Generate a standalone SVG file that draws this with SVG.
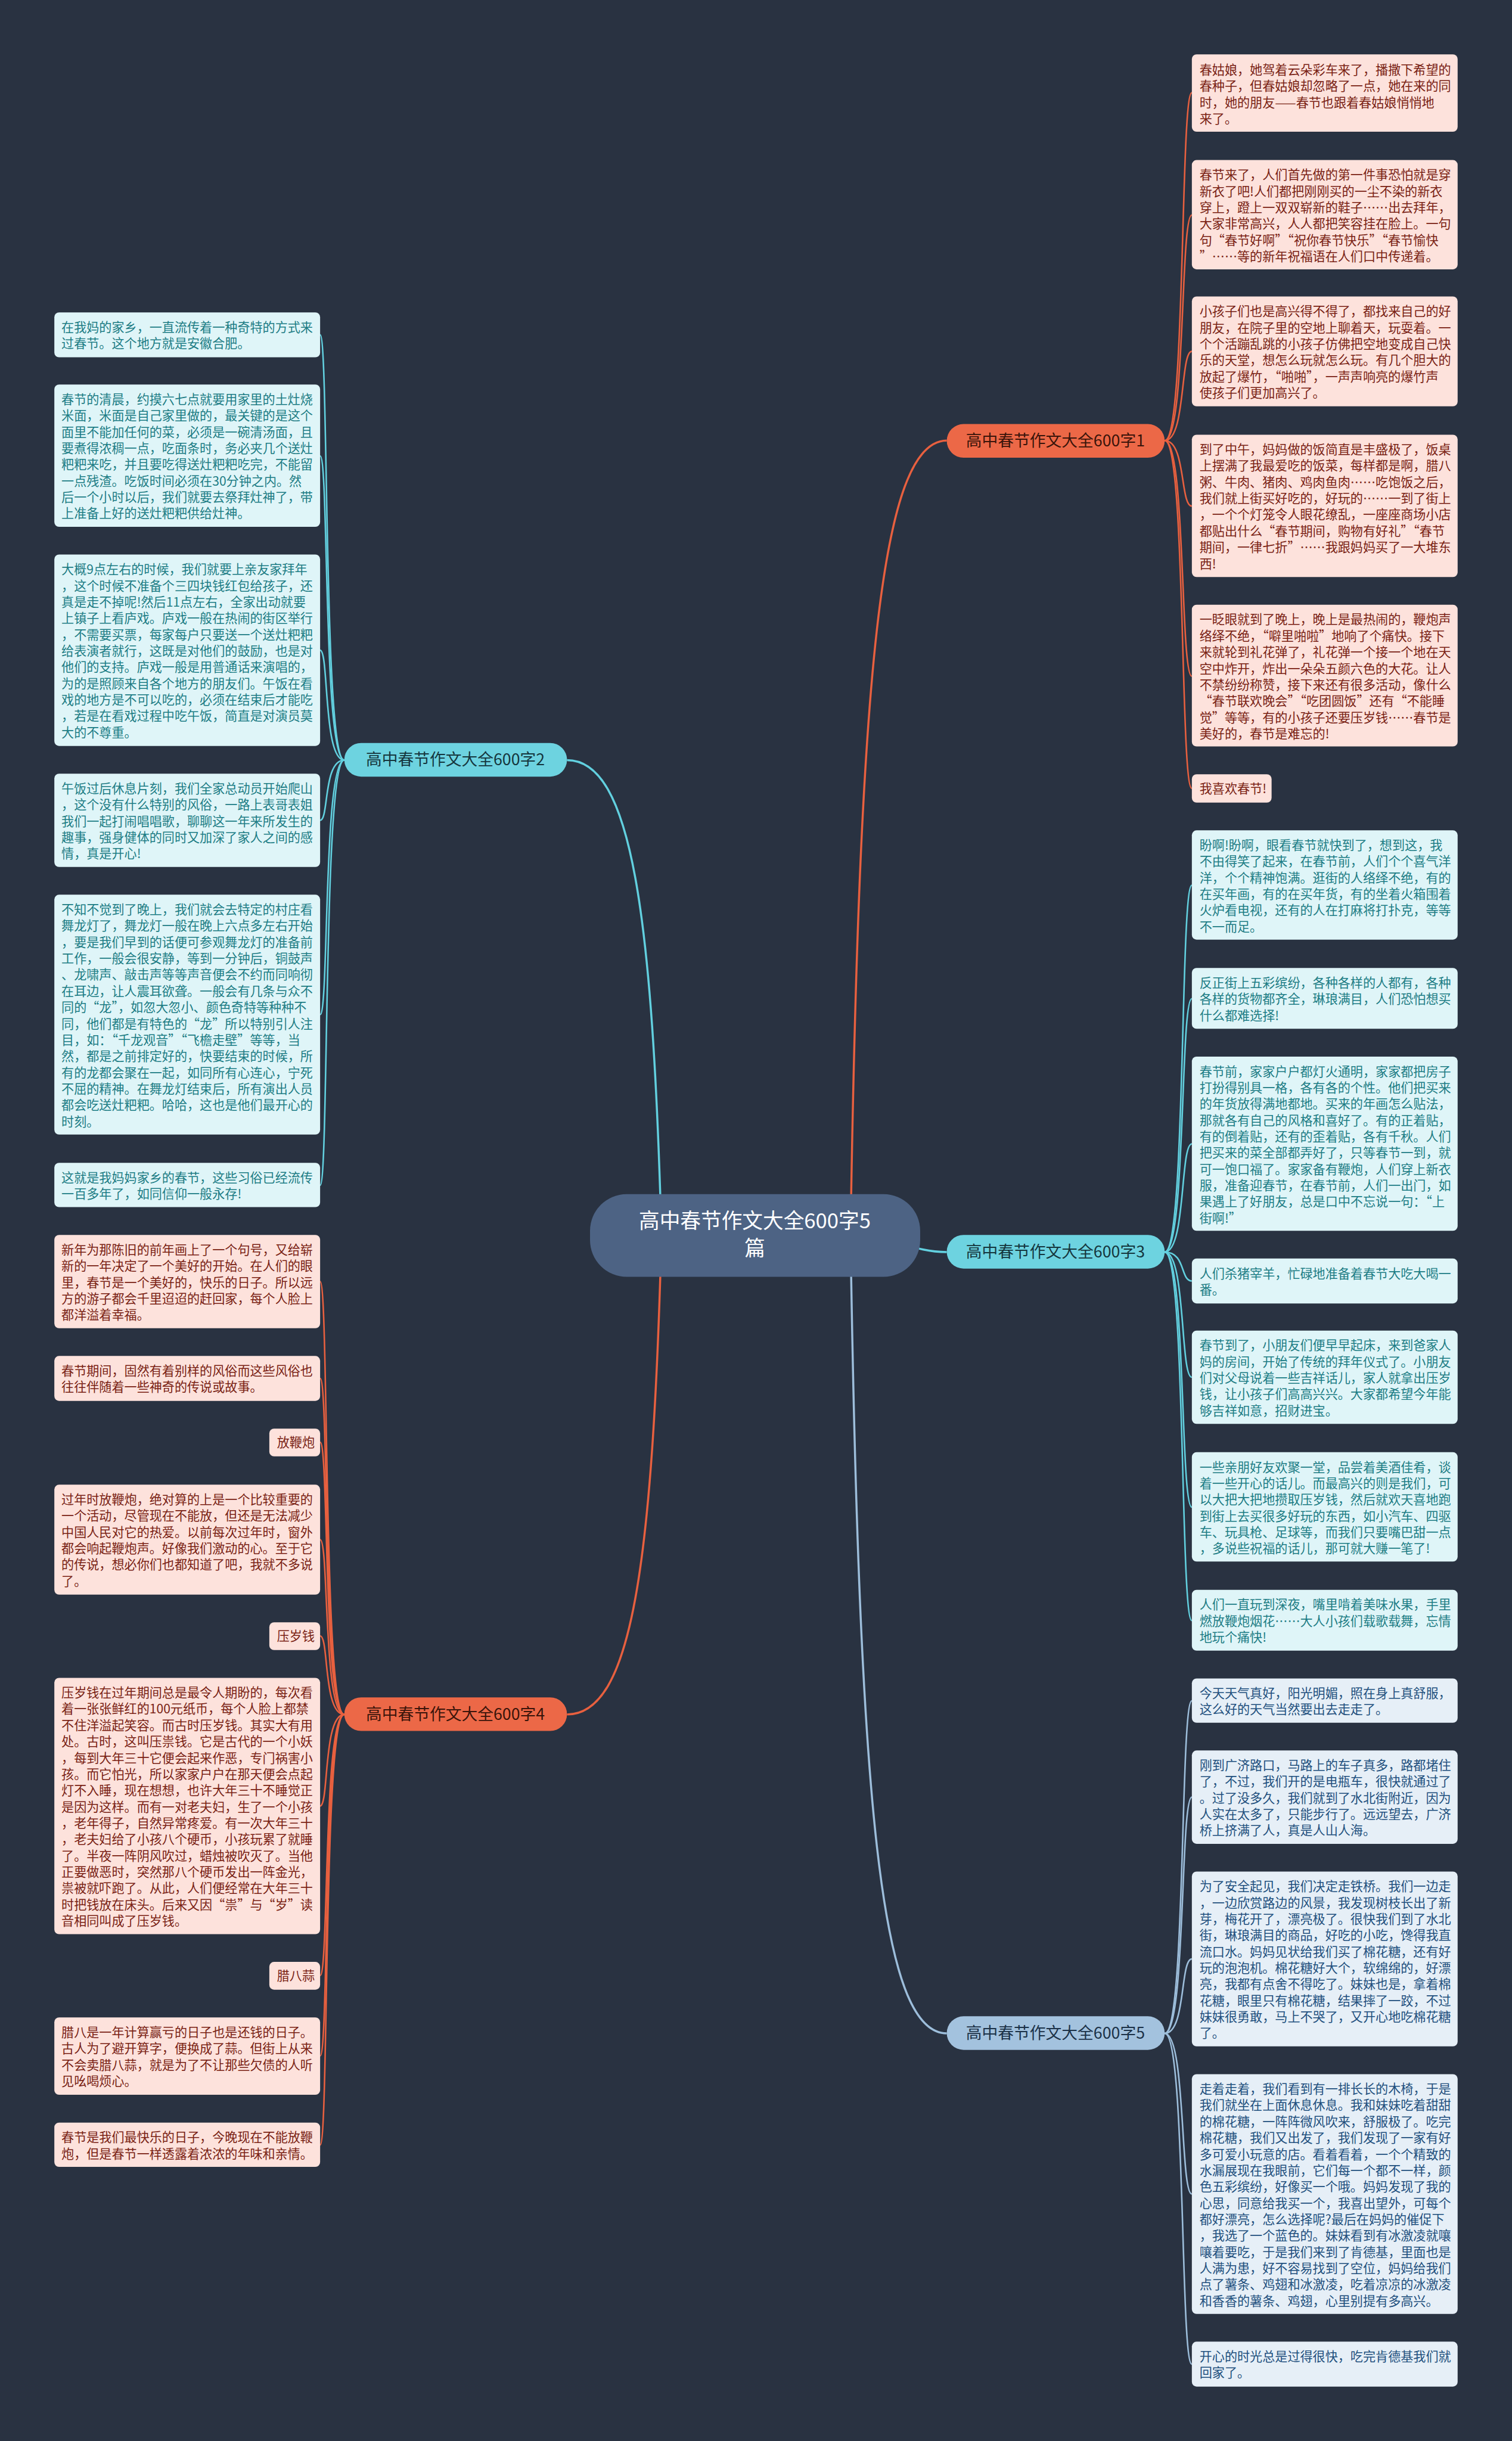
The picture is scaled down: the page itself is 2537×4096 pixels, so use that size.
<svg xmlns="http://www.w3.org/2000/svg" width="2537" height="4096" viewBox="0 0 2537 4096">
<style>
text{font-family:"Noto Sans CJK SC","Liberation Sans",sans-serif;}
.lt rect{fill:#dff5f8;}
.lr rect{fill:#fde2dc;}
.lb rect{fill:#e6eff7;}
.lt text{fill:#1d7d85;font-size:21.3px;}
.lr text{fill:#7a2214;font-size:21.3px;}
.lb text{fill:#22507e;font-size:21.3px;}
.cr{fill:none;stroke:#e8603f;stroke-width:2.6;}
.ct{fill:none;stroke:#62d0df;stroke-width:2.6;}
.cb{fill:none;stroke:#9dbedb;stroke-width:2.6;}
.main{stroke-width:3.5;}
.br text{font-size:27px;text-anchor:middle;}
</style>
<rect width="2537" height="4096" fill="#293241"/>
<g transform="scale(0.991)">
<g id="connectors">
<path class="cr main" d="M1440 2092 C1455 1150 1490 746 1603 746"/>
<path class="ct main" d="M1120 2092 C1105 1550 1070 1287 960 1287"/>
<path class="ct main" d="M1450 2092 C1520 2092 1540 2120 1603 2120"/>
<path class="cr main" d="M1120 2092 C1105 2650 1070 2903 960 2903"/>
<path class="cb main" d="M1440 2092 C1455 3050 1490 3443 1603 3443"/>
<path class="cr" d="M1972 746 C2008 746 1998 157 2018 157"/>
<path class="cr" d="M1972 746 C2008 746 1998 364 2018 364"/>
<path class="cr" d="M1972 746 C2008 746 1998 595 2018 595"/>
<path class="cr" d="M1972 746 C2008 746 1998 857 2018 857"/>
<path class="cr" d="M1972 746 C2008 746 1998 1145 2018 1145"/>
<path class="cr" d="M1972 746 C2008 746 1998 1335 2018 1335"/>
<path class="ct" d="M1972 2120 C2008 2120 1998 1499 2018 1499"/>
<path class="ct" d="M1972 2120 C2008 2120 1998 1691 2018 1691"/>
<path class="ct" d="M1972 2120 C2008 2120 1998 1937 2018 1937"/>
<path class="ct" d="M1972 2120 C2008 2120 1998 2169 2018 2169"/>
<path class="ct" d="M1972 2120 C2008 2120 1998 2332 2018 2332"/>
<path class="ct" d="M1972 2120 C2008 2120 1998 2552 2018 2552"/>
<path class="ct" d="M1972 2120 C2008 2120 1998 2744 2018 2744"/>
<path class="cb" d="M1972 3443 C2008 3443 1998 2880 2018 2880"/>
<path class="cb" d="M1972 3443 C2008 3443 1998 3043 2018 3043"/>
<path class="cb" d="M1972 3443 C2008 3443 1998 3317 2018 3317"/>
<path class="cb" d="M1972 3443 C2008 3443 1998 3715 2018 3715"/>
<path class="cb" d="M1972 3443 C2008 3443 1998 4003 2018 4003"/>
<path class="ct" d="M583 1287 C547 1287 557 567 542 567"/>
<path class="ct" d="M583 1287 C547 1287 557 772 542 772"/>
<path class="ct" d="M583 1287 C547 1287 557 1101 542 1101"/>
<path class="ct" d="M583 1287 C547 1287 557 1389 542 1389"/>
<path class="ct" d="M583 1287 C547 1287 557 1718 542 1718"/>
<path class="ct" d="M583 1287 C547 1287 557 2007 542 2007"/>
<path class="cr" d="M583 2903 C547 2903 557 2170 542 2170"/>
<path class="cr" d="M583 2903 C547 2903 557 2334 542 2334"/>
<path class="cr" d="M583 2903 C547 2903 557 2442 542 2442"/>
<path class="cr" d="M583 2903 C547 2903 557 2607 542 2607"/>
<path class="cr" d="M583 2903 C547 2903 557 2770 542 2770"/>
<path class="cr" d="M583 2903 C547 2903 557 3058 542 3058"/>
<path class="cr" d="M583 2903 C547 2903 557 3345 542 3345"/>
<path class="cr" d="M583 2903 C547 2903 557 3481 542 3481"/>
<path class="cr" d="M583 2903 C547 2903 557 3632 542 3632"/>
</g>

<g id="root">
<rect x="999" y="2022" width="559" height="140" rx="62" fill="#4d6384"/>
<text x="1278" y="2080" font-size="35" fill="#ffffff" text-anchor="middle">高中春节作文大全600字5</text>
<text x="1278" y="2126" font-size="35" fill="#ffffff" text-anchor="middle">篇</text>
</g>

<g id="b1" class="br"><rect x="1603" y="718" width="369" height="57" rx="28.5" fill="#ec6847"/><text x="1787" y="756" fill="#3a140a">高中春节作文大全600字1</text></g>
<g id="b2" class="br"><rect x="583" y="1258" width="377" height="57" rx="28.5" fill="#6dd3e0"/><text x="771" y="1296" fill="#15363d">高中春节作文大全600字2</text></g>
<g id="b3" class="br"><rect x="1603" y="2091" width="369" height="57" rx="28.5" fill="#6dd3e0"/><text x="1787" y="2129" fill="#15363d">高中春节作文大全600字3</text></g>
<g id="b4" class="br"><rect x="583" y="2874" width="377" height="57" rx="28.5" fill="#ec6847"/><text x="771" y="2912" fill="#3a140a">高中春节作文大全600字4</text></g>
<g id="b5" class="br"><rect x="1603" y="3414" width="369" height="57" rx="28.5" fill="#a3c2de"/><text x="1787" y="3452" fill="#1b3147">高中春节作文大全600字5</text></g>

<!-- branch 2 leaves -->
<g id="l2a" class="lt"><rect x="92" y="529" width="450" height="76" rx="8"/><text x="104" y="562"><tspan x="104">在我妈的家乡，一直流传着一种奇特的方式来</tspan><tspan x="104" dy="27.6">过春节。这个地方就是安徽合肥。</tspan></text></g>
<g id="l2b" class="lt"><rect x="92" y="651" width="450" height="241" rx="8"/><text x="104" y="684"><tspan x="104">春节的清晨，约摸六七点就要用家里的土灶烧</tspan><tspan x="104" dy="27.6">米面，米面是自己家里做的，最关键的是这个</tspan><tspan x="104" dy="27.6">面里不能加任何的菜，必须是一碗清汤面，且</tspan><tspan x="104" dy="27.6">要煮得浓稠一点，吃面条时，务必夹几个送灶</tspan><tspan x="104" dy="27.6">粑粑来吃，并且要吃得送灶粑粑吃完，不能留</tspan><tspan x="104" dy="27.6">一点残渣。吃饭时间必须在30分钟之内。然</tspan><tspan x="104" dy="27.6">后一个小时以后，我们就要去祭拜灶神了，带</tspan><tspan x="104" dy="27.6">上准备上好的送灶粑粑供给灶神。</tspan></text></g>
<g id="l2c" class="lt"><rect x="92" y="939" width="450" height="324" rx="8"/><text x="104" y="972"><tspan x="104">大概9点左右的时候，我们就要上亲友家拜年</tspan><tspan x="104" dy="27.6">，这个时候不准备个三四块钱红包给孩子，还</tspan><tspan x="104" dy="27.6">真是走不掉呢!然后11点左右，全家出动就要</tspan><tspan x="104" dy="27.6">上镇子上看庐戏。庐戏一般在热闹的街区举行</tspan><tspan x="104" dy="27.6">，不需要买票，每家每户只要送一个送灶粑粑</tspan><tspan x="104" dy="27.6">给表演者就行，这既是对他们的鼓励，也是对</tspan><tspan x="104" dy="27.6">他们的支持。庐戏一般是用普通话来演唱的，</tspan><tspan x="104" dy="27.6">为的是照顾来自各个地方的朋友们。午饭在看</tspan><tspan x="104" dy="27.6">戏的地方是不可以吃的，必须在结束后才能吃</tspan><tspan x="104" dy="27.6">，若是在看戏过程中吃午饭，简直是对演员莫</tspan><tspan x="104" dy="27.6">大的不尊重。</tspan></text></g>
<g id="l2d" class="lt"><rect x="92" y="1310" width="450" height="158" rx="8"/><text x="104" y="1343"><tspan x="104">午饭过后休息片刻，我们全家总动员开始爬山</tspan><tspan x="104" dy="27.6">，这个没有什么特别的风俗，一路上表哥表姐</tspan><tspan x="104" dy="27.6">我们一起打闹唱唱歌，聊聊这一年来所发生的</tspan><tspan x="104" dy="27.6">趣事，强身健体的同时又加深了家人之间的感</tspan><tspan x="104" dy="27.6">情，真是开心!</tspan></text></g>
<g id="l2e" class="lt"><rect x="92" y="1515" width="450" height="406" rx="8"/><text x="104" y="1548"><tspan x="104">不知不觉到了晚上，我们就会去特定的村庄看</tspan><tspan x="104" dy="27.6">舞龙灯了，舞龙灯一般在晚上六点多左右开始</tspan><tspan x="104" dy="27.6">，要是我们早到的话便可参观舞龙灯的准备前</tspan><tspan x="104" dy="27.6">工作，一般会很安静，等到一分钟后，铜鼓声</tspan><tspan x="104" dy="27.6">、龙啸声、敲击声等等声音便会不约而同响彻</tspan><tspan x="104" dy="27.6">在耳边，让人震耳欲聋。一般会有几条与众不</tspan><tspan x="104" dy="27.6">同的“龙”，如忽大忽小、颜色奇特等种种不</tspan><tspan x="104" dy="27.6">同，他们都是有特色的“龙”所以特别引人注</tspan><tspan x="104" dy="27.6">目，如：“千龙观音”“飞檐走壁”等等，当</tspan><tspan x="104" dy="27.6">然，都是之前排定好的，快要结束的时候，所</tspan><tspan x="104" dy="27.6">有的龙都会聚在一起，如同所有心连心，宁死</tspan><tspan x="104" dy="27.6">不屈的精神。在舞龙灯结束后，所有演出人员</tspan><tspan x="104" dy="27.6">都会吃送灶粑粑。哈哈，这也是他们最开心的</tspan><tspan x="104" dy="27.6">时刻。</tspan></text></g>
<g id="l2f" class="lt"><rect x="92" y="1969" width="450" height="75" rx="8"/><text x="104" y="2002"><tspan x="104">这就是我妈妈家乡的春节，这些习俗已经流传</tspan><tspan x="104" dy="27.6">一百多年了，如同信仰一般永存!</tspan></text></g>

<!-- branch 4 leaves -->
<g id="l4a" class="lr"><rect x="92" y="2091" width="450" height="158" rx="8"/><text x="104" y="2124"><tspan x="104">新年为那陈旧的前年画上了一个句号，又给崭</tspan><tspan x="104" dy="27.6">新的一年决定了一个美好的开始。在人们的眼</tspan><tspan x="104" dy="27.6">里，春节是一个美好的，快乐的日子。所以远</tspan><tspan x="104" dy="27.6">方的游子都会千里迢迢的赶回家，每个人脸上</tspan><tspan x="104" dy="27.6">都洋溢着幸福。</tspan></text></g>
<g id="l4b" class="lr"><rect x="92" y="2296" width="450" height="76" rx="8"/><text x="104" y="2329"><tspan x="104">春节期间，固然有着别样的风俗而这些风俗也</tspan><tspan x="104" dy="27.6">往往伴随着一些神奇的传说或故事。</tspan></text></g>
<g id="l4c" class="lr"><rect x="456" y="2419" width="86" height="47" rx="8"/><text x="469" y="2450">放鞭炮</text></g>
<g id="l4d" class="lr"><rect x="92" y="2514" width="450" height="186" rx="8"/><text x="104" y="2547"><tspan x="104">过年时放鞭炮，绝对算的上是一个比较重要的</tspan><tspan x="104" dy="27.6">一个活动，尽管现在不能放，但还是无法减少</tspan><tspan x="104" dy="27.6">中国人民对它的热爱。以前每次过年时，窗外</tspan><tspan x="104" dy="27.6">都会响起鞭炮声。好像我们激动的心。至于它</tspan><tspan x="104" dy="27.6">的传说，想必你们也都知道了吧，我就不多说</tspan><tspan x="104" dy="27.6">了。</tspan></text></g>
<g id="l4e" class="lr"><rect x="456" y="2747" width="86" height="47" rx="8"/><text x="469" y="2778">压岁钱</text></g>
<g id="l4f" class="lr"><rect x="92" y="2841" width="450" height="434" rx="8"/><text x="104" y="2874"><tspan x="104">压岁钱在过年期间总是最令人期盼的，每次看</tspan><tspan x="104" dy="27.6">着一张张鲜红的100元纸币，每个人脸上都禁</tspan><tspan x="104" dy="27.6">不住洋溢起笑容。而古时压岁钱。其实大有用</tspan><tspan x="104" dy="27.6">处。古时，这叫压祟钱。它是古代的一个小妖</tspan><tspan x="104" dy="27.6">，每到大年三十它便会起来作恶，专门祸害小</tspan><tspan x="104" dy="27.6">孩。而它怕光，所以家家户户在那天便会点起</tspan><tspan x="104" dy="27.6">灯不入睡，现在想想，也许大年三十不睡觉正</tspan><tspan x="104" dy="27.6">是因为这样。而有一对老夫妇，生了一个小孩</tspan><tspan x="104" dy="27.6">，老年得子，自然异常疼爱。有一次大年三十</tspan><tspan x="104" dy="27.6">，老夫妇给了小孩八个硬币，小孩玩累了就睡</tspan><tspan x="104" dy="27.6">了。半夜一阵阴风吹过，蜡烛被吹灭了。当他</tspan><tspan x="104" dy="27.6">正要做恶时，突然那八个硬币发出一阵金光，</tspan><tspan x="104" dy="27.6">祟被就吓跑了。从此，人们便经常在大年三十</tspan><tspan x="104" dy="27.6">时把钱放在床头。后来又因“祟”与“岁”读</tspan><tspan x="104" dy="27.6">音相同叫成了压岁钱。</tspan></text></g>
<g id="l4g" class="lr"><rect x="456" y="3322" width="86" height="47" rx="8"/><text x="469" y="3353">腊八蒜</text></g>
<g id="l4h" class="lr"><rect x="92" y="3416" width="450" height="131" rx="8"/><text x="104" y="3449"><tspan x="104">腊八是一年计算赢亏的日子也是还钱的日子。</tspan><tspan x="104" dy="27.6">古人为了避开算字，便换成了蒜。但街上从来</tspan><tspan x="104" dy="27.6">不会卖腊八蒜，就是为了不让那些欠债的人听</tspan><tspan x="104" dy="27.6">见吆喝烦心。</tspan></text></g>
<g id="l4i" class="lr"><rect x="92" y="3594" width="450" height="75" rx="8"/><text x="104" y="3627"><tspan x="104">春节是我们最快乐的日子，今晚现在不能放鞭</tspan><tspan x="104" dy="27.6">炮，但是春节一样透露着浓浓的年味和亲情。</tspan></text></g>

<!-- branch 1 leaves -->
<g id="r1a" class="lr"><rect x="2018" y="92" width="450" height="131" rx="8"/><text x="2031" y="126"><tspan x="2031">春姑娘，她驾着云朵彩车来了，播撒下希望的</tspan><tspan x="2031" dy="27.6">春种子，但春姑娘却忽略了一点，她在来的同</tspan><tspan x="2031" dy="27.6">时，她的朋友——春节也跟着春姑娘悄悄地</tspan><tspan x="2031" dy="27.6">来了。</tspan></text></g>
<g id="r1b" class="lr"><rect x="2018" y="271" width="450" height="185" rx="8"/><text x="2031" y="304"><tspan x="2031">春节来了，人们首先做的第一件事恐怕就是穿</tspan><tspan x="2031" dy="27.6">新衣了吧!人们都把刚刚买的一尘不染的新衣</tspan><tspan x="2031" dy="27.6">穿上，蹬上一双双崭新的鞋子……出去拜年，</tspan><tspan x="2031" dy="27.6">大家非常高兴，人人都把笑容挂在脸上。一句</tspan><tspan x="2031" dy="27.6">句“春节好啊”“祝你春节快乐”“春节愉快</tspan><tspan x="2031" dy="27.6">”……等的新年祝福语在人们口中传递着。</tspan></text></g>
<g id="r1c" class="lr"><rect x="2018" y="502" width="450" height="186" rx="8"/><text x="2031" y="535"><tspan x="2031">小孩子们也是高兴得不得了，都找来自己的好</tspan><tspan x="2031" dy="27.6">朋友，在院子里的空地上聊着天，玩耍着。一</tspan><tspan x="2031" dy="27.6">个个活蹦乱跳的小孩子仿佛把空地变成自己快</tspan><tspan x="2031" dy="27.6">乐的天堂，想怎么玩就怎么玩。有几个胆大的</tspan><tspan x="2031" dy="27.6">放起了爆竹，“啪啪”，一声声响亮的爆竹声</tspan><tspan x="2031" dy="27.6">使孩子们更加高兴了。</tspan></text></g>
<g id="r1d" class="lr"><rect x="2018" y="736" width="450" height="241" rx="8"/><text x="2031" y="769"><tspan x="2031">到了中午，妈妈做的饭简直是丰盛极了，饭桌</tspan><tspan x="2031" dy="27.6">上摆满了我最爱吃的饭菜，每样都是啊，腊八</tspan><tspan x="2031" dy="27.6">粥、牛肉、猪肉、鸡肉鱼肉……吃饱饭之后，</tspan><tspan x="2031" dy="27.6">我们就上街买好吃的，好玩的……一到了街上</tspan><tspan x="2031" dy="27.6">，一个个灯笼令人眼花缭乱，一座座商场小店</tspan><tspan x="2031" dy="27.6">都贴出什么“春节期间，购物有好礼”“春节</tspan><tspan x="2031" dy="27.6">期间，一律七折”……我跟妈妈买了一大堆东</tspan><tspan x="2031" dy="27.6">西!</tspan></text></g>
<g id="r1e" class="lr"><rect x="2018" y="1024" width="450" height="240" rx="8"/><text x="2031" y="1057"><tspan x="2031">一眨眼就到了晚上，晚上是最热闹的，鞭炮声</tspan><tspan x="2031" dy="27.6">络绎不绝，“噼里啪啦”地响了个痛快。接下</tspan><tspan x="2031" dy="27.6">来就轮到礼花弹了，礼花弹一个接一个地在天</tspan><tspan x="2031" dy="27.6">空中炸开，炸出一朵朵五颜六色的大花。让人</tspan><tspan x="2031" dy="27.6">不禁纷纷称赞，接下来还有很多活动，像什么</tspan><tspan x="2031" dy="27.6">“春节联欢晚会”“吃团圆饭”还有“不能睡</tspan><tspan x="2031" dy="27.6">觉”等等，有的小孩子还要压岁钱……春节是</tspan><tspan x="2031" dy="27.6">美好的，春节是难忘的!</tspan></text></g>
<g id="r1f" class="lr"><rect x="2018" y="1311" width="135" height="48" rx="8"/><text x="2031" y="1343">我喜欢春节!</text></g>

<!-- branch 3 leaves -->
<g id="r3a" class="lt"><rect x="2018" y="1406" width="450" height="185" rx="8"/><text x="2031" y="1439"><tspan x="2031">盼啊!盼啊，眼看春节就快到了，想到这，我</tspan><tspan x="2031" dy="27.6">不由得笑了起来，在春节前，人们个个喜气洋</tspan><tspan x="2031" dy="27.6">洋，个个精神饱满。逛街的人络绎不绝，有的</tspan><tspan x="2031" dy="27.6">在买年画，有的在买年货，有的坐着火箱围着</tspan><tspan x="2031" dy="27.6">火炉看电视，还有的人在打麻将打扑克，等等</tspan><tspan x="2031" dy="27.6">不一而足。</tspan></text></g>
<g id="r3b" class="lt"><rect x="2018" y="1639" width="450" height="103" rx="8"/><text x="2031" y="1672"><tspan x="2031">反正街上五彩缤纷，各种各样的人都有，各种</tspan><tspan x="2031" dy="27.6">各样的货物都齐全，琳琅满目，人们恐怕想买</tspan><tspan x="2031" dy="27.6">什么都难选择!</tspan></text></g>
<g id="r3c" class="lt"><rect x="2018" y="1789" width="450" height="295" rx="8"/><text x="2031" y="1822"><tspan x="2031">春节前，家家户户都灯火通明，家家都把房子</tspan><tspan x="2031" dy="27.6">打扮得别具一格，各有各的个性。他们把买来</tspan><tspan x="2031" dy="27.6">的年货放得满地都地。买来的年画怎么贴法，</tspan><tspan x="2031" dy="27.6">那就各有自己的风格和喜好了。有的正着贴，</tspan><tspan x="2031" dy="27.6">有的倒着贴，还有的歪着贴，各有千秋。人们</tspan><tspan x="2031" dy="27.6">把买来的菜全部都弄好了，只等春节一到，就</tspan><tspan x="2031" dy="27.6">可一饱口福了。家家备有鞭炮，人们穿上新衣</tspan><tspan x="2031" dy="27.6">服，准备迎春节，在春节前，人们一出门，如</tspan><tspan x="2031" dy="27.6">果遇上了好朋友，总是口中不忘说一句：“上</tspan><tspan x="2031" dy="27.6">街啊!”</tspan></text></g>
<g id="r3d" class="lt"><rect x="2018" y="2131" width="450" height="76" rx="8"/><text x="2031" y="2164"><tspan x="2031">人们杀猪宰羊，忙碌地准备着春节大吃大喝一</tspan><tspan x="2031" dy="27.6">番。</tspan></text></g>
<g id="r3e" class="lt"><rect x="2018" y="2253" width="450" height="158" rx="8"/><text x="2031" y="2286"><tspan x="2031">春节到了，小朋友们便早早起床，来到爸家人</tspan><tspan x="2031" dy="27.6">妈的房间，开始了传统的拜年仪式了。小朋友</tspan><tspan x="2031" dy="27.6">们对父母说着一些吉祥话儿，家人就拿出压岁</tspan><tspan x="2031" dy="27.6">钱，让小孩子们高高兴兴。大家都希望今年能</tspan><tspan x="2031" dy="27.6">够吉祥如意，招财进宝。</tspan></text></g>
<g id="r3f" class="lt"><rect x="2018" y="2459" width="450" height="185" rx="8"/><text x="2031" y="2492"><tspan x="2031">一些亲朋好友欢聚一堂，品尝着美酒佳肴，谈</tspan><tspan x="2031" dy="27.6">着一些开心的话儿。而最高兴的则是我们，可</tspan><tspan x="2031" dy="27.6">以大把大把地攒取压岁钱，然后就欢天喜地跑</tspan><tspan x="2031" dy="27.6">到街上去买很多好玩的东西，如小汽车、四驱</tspan><tspan x="2031" dy="27.6">车、玩具枪、足球等，而我们只要嘴巴甜一点</tspan><tspan x="2031" dy="27.6">，多说些祝福的话儿，那可就大赚一笔了!</tspan></text></g>
<g id="r3g" class="lt"><rect x="2018" y="2692" width="450" height="103" rx="8"/><text x="2031" y="2725"><tspan x="2031">人们一直玩到深夜，嘴里啃着美味水果，手里</tspan><tspan x="2031" dy="27.6">燃放鞭炮烟花……大人小孩们载歌载舞，忘情</tspan><tspan x="2031" dy="27.6">地玩个痛快!</tspan></text></g>

<!-- branch 5 leaves -->
<g id="r5a" class="lb"><rect x="2018" y="2842" width="450" height="75" rx="8"/><text x="2031" y="2875"><tspan x="2031">今天天气真好，阳光明媚，照在身上真舒服，</tspan><tspan x="2031" dy="27.6">这么好的天气当然要出去走走了。</tspan></text></g>
<g id="r5b" class="lb"><rect x="2018" y="2964" width="450" height="158" rx="8"/><text x="2031" y="2997"><tspan x="2031">刚到广济路口，马路上的车子真多，路都堵住</tspan><tspan x="2031" dy="27.6">了，不过，我们开的是电瓶车，很快就通过了</tspan><tspan x="2031" dy="27.6">。过了没多久，我们就到了水北街附近，因为</tspan><tspan x="2031" dy="27.6">人实在太多了，只能步行了。远远望去，广济</tspan><tspan x="2031" dy="27.6">桥上挤满了人，真是人山人海。</tspan></text></g>
<g id="r5c" class="lb"><rect x="2018" y="3169" width="450" height="296" rx="8"/><text x="2031" y="3202"><tspan x="2031">为了安全起见，我们决定走铁桥。我们一边走</tspan><tspan x="2031" dy="27.6">，一边欣赏路边的风景，我发现树枝长出了新</tspan><tspan x="2031" dy="27.6">芽，梅花开了，漂亮极了。很快我们到了水北</tspan><tspan x="2031" dy="27.6">街，琳琅满目的商品，好吃的小吃，馋得我直</tspan><tspan x="2031" dy="27.6">流口水。妈妈见状给我们买了棉花糖，还有好</tspan><tspan x="2031" dy="27.6">玩的泡泡机。棉花糖好大个，软绵绵的，好漂</tspan><tspan x="2031" dy="27.6">亮，我都有点舍不得吃了。妹妹也是，拿着棉</tspan><tspan x="2031" dy="27.6">花糖，眼里只有棉花糖，结果摔了一跤，不过</tspan><tspan x="2031" dy="27.6">妹妹很勇敢，马上不哭了，又开心地吃棉花糖</tspan><tspan x="2031" dy="27.6">了。</tspan></text></g>
<g id="r5d" class="lb"><rect x="2018" y="3512" width="450" height="406" rx="8"/><text x="2031" y="3545"><tspan x="2031">走着走着，我们看到有一排长长的木椅，于是</tspan><tspan x="2031" dy="27.6">我们就坐在上面休息休息。我和妹妹吃着甜甜</tspan><tspan x="2031" dy="27.6">的棉花糖，一阵阵微风吹来，舒服极了。吃完</tspan><tspan x="2031" dy="27.6">棉花糖，我们又出发了，我们发现了一家有好</tspan><tspan x="2031" dy="27.6">多可爱小玩意的店。看着看着，一个个精致的</tspan><tspan x="2031" dy="27.6">水漏展现在我眼前，它们每一个都不一样，颜</tspan><tspan x="2031" dy="27.6">色五彩缤纷，好像买一个哦。妈妈发现了我的</tspan><tspan x="2031" dy="27.6">心思，同意给我买一个，我喜出望外，可每个</tspan><tspan x="2031" dy="27.6">都好漂亮，怎么选择呢?最后在妈妈的催促下</tspan><tspan x="2031" dy="27.6">，我选了一个蓝色的。妹妹看到有冰激凌就嚷</tspan><tspan x="2031" dy="27.6">嚷着要吃，于是我们来到了肯德基，里面也是</tspan><tspan x="2031" dy="27.6">人满为患，好不容易找到了空位，妈妈给我们</tspan><tspan x="2031" dy="27.6">点了薯条、鸡翅和冰激凌，吃着凉凉的冰激凌</tspan><tspan x="2031" dy="27.6">和香香的薯条、鸡翅，心里别提有多高兴。</tspan></text></g>
<g id="r5e" class="lb"><rect x="2018" y="3965" width="450" height="76" rx="8"/><text x="2031" y="3998"><tspan x="2031">开心的时光总是过得很快，吃完肯德基我们就</tspan><tspan x="2031" dy="27.6">回家了。</tspan></text></g>
</g>
</svg>
